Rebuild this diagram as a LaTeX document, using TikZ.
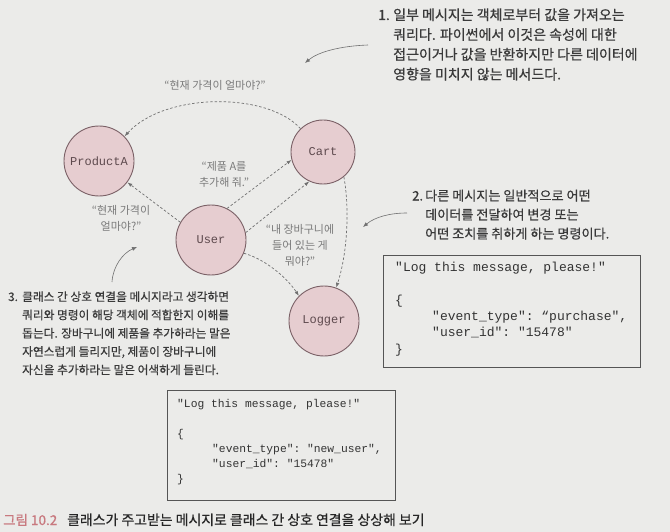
\documentclass[tikz,border=0pt]{standalone}
\usepackage{fontspec}
\newfontfamily\kr{Noto Sans CJK KR}
\newfontfamily\krm[FakeBold=0.6]{Noto Sans CJK KR}
\setmonofont{Liberation Mono}
\usetikzlibrary{arrows.meta}
\definecolor{bg}{HTML}{EBEBE9}
\definecolor{clsfill}{HTML}{E6CDD0}
\definecolor{clsborder}{HTML}{7A6066}
\definecolor{clstext}{HTML}{5E4A4E}
\definecolor{arrowgray}{HTML}{707070}
\definecolor{lblgray}{HTML}{7A7A7A}
\definecolor{notegray}{HTML}{3A3A3A}
\definecolor{boxline}{HTML}{555555}
\definecolor{capred}{HTML}{C8797F}
\tikzset{
  cls/.style={circle, draw=clsborder, fill=clsfill, line width=0.9pt, minimum size=70pt, inner sep=0pt,
    font=\ttfamily\fontsize{12}{14}\selectfont, text=clstext},
  msg/.style={draw=arrowgray, dash pattern=on 2.5pt off 2pt, line width=0.7pt,
    -{Latex[length=5pt,width=3.5pt]}},
  lbl/.style={font=\kr\fontsize{11}{16}\selectfont, text=lblgray, align=center, inner sep=0pt},
  note/.style={text=notegray, inner sep=0pt, anchor=base west},
  pointer/.style={draw=arrowgray, line width=0.6pt, -{Latex[length=5pt,width=4pt]}},
  codebox/.style={draw=boxline, line width=0.7pt, anchor=north west, inner sep=0pt},
  code/.style={inner sep=0pt, anchor=base west, text=black!80}
}
\begin{document}
\begin{tikzpicture}[x=1pt,y=-1pt]
\useasboundingbox (0,0) rectangle (670,532);
\fill[bg] (0,0) rectangle (670,532);

% class nodes
\node[cls] (prod) at (99,161) {ProductA};
\node[cls, minimum size=64pt] (cart) at (323,152) {Cart};
\node[cls] (user) at (211,240) {User};
\node[cls] (log) at (324,321) {Logger};

% messages
\draw[msg] (cart.134) .. controls (268,92) and (165,92) .. (prod.44);
\draw[msg] (user.150) -- (prod.-37);
\draw[msg] (user.63) -- (cart.-166);
\draw[msg] (user.12) -- (cart.-115);
\draw[msg] (cart.-50) .. controls (350,210) and (347,255) .. (log.70);
\draw[msg] (user.-22) .. controls (262,258) and (285,275) .. (log.135);

% message labels
\node[lbl] (ltop) at (215,85) {“현재 가격이 얼마야?”};
\node[lbl] (lleft) at (121,218) {“현재 가격이\\얼마야?”};
\node[lbl] (lmid) at (224,174.5) {“제품 A를\\추가해 줘.”};
\node[lbl] (lright) at (300,245) {“내 장바구니에\\들어 있는 게\\뭐야?”};

% note 1
\node[note] (n1) at (378,20) {\krm\fontsize{14}{19.8}\selectfont
  \begin{tabular}[t]{@{}l@{}l@{}}
  \makebox[15pt][l]{1.} & 일부 메시지는 객체로부터 값을 가져오는\\
  & 쿼리다. 파이썬에서 이것은 속성에 대한\\
  & 접근이거나 값을 반환하지만 다른 데이터에\\
  & 영향을 미치지 않는 메서드다.
  \end{tabular}};
\coordinate (p1s) at (368,45);
\coordinate (p1e) at (305,63);
\draw[pointer] (p1s) .. controls (340,46) and (318,52) .. (p1e);

% note 2
\node[note] (n2) at (412,200.5) {\krm\fontsize{13.1}{19}\selectfont
  \begin{tabular}[t]{@{}l@{}l@{}}
  \makebox[13pt][l]{2.} & 다른 메시지는 일반적으로 어떤\\
  & 데이터를 전달하여 변경 또는\\
  & 어떤 조치를 취하게 하는 명령이다.
  \end{tabular}};
\coordinate (p2s) at (407,213);
\coordinate (p2e) at (363,227);
\draw[pointer] (p2s) .. controls (390,213) and (375,217) .. (p2e);

% note 3
\node[note] (n3) at (8,301) {\krm\fontsize{11.7}{18.3}\selectfont
  \begin{tabular}[t]{@{}l@{}l@{}}
  \makebox[14pt][l]{3.} & 클래스 간 상호 연결을 메시지라고 생각하면\\
  & 쿼리와 명령이 해당 객체에 적합한지 이해를\\
  & 돕는다. 장바구니에 제품을 추가하라는 말은\\
  & 자연스럽게 들리지만, 제품이 장바구니에\\
  & 자신을 추가하라는 말은 어색하게 들린다.
  \end{tabular}};
\coordinate (p3s) at (112,282);
\coordinate (p3e) at (137,247);
\draw[pointer] (p3s) .. controls (113,266) and (123,253) .. (p3e);

% code box A
\node[codebox, minimum width=257pt, minimum height=112pt] (boxA) at (383,255) {};
\node[code] (codeA) at (395,271) {\ttfamily\fontsize{13}{16.5}\selectfont
  \begin{tabular}[t]{@{}l@{}}
  "Log this message, please!"\\
  \mbox{}\\
  \{\\
  \hspace*{37pt}"event\_type": “purchase",\\
  \hspace*{37pt}"user\_id": "15478"\\
  \}
  \end{tabular}};

% code box B
\node[codebox, minimum width=228pt, minimum height=110pt] (boxB) at (167,390) {};
\node[code] (codeB) at (177,407) {\ttfamily\fontsize{11.3}{15}\selectfont
  \begin{tabular}[t]{@{}l@{}}
  "Log this message, please!"\\
  \mbox{}\\
  \{\\
  \hspace*{35pt}"event\_type": "new\_user",\\
  \hspace*{35pt}"user\_id": "15478"\\
  \}
  \end{tabular}};

% caption
\node[anchor=base west, inner sep=0pt, text=capred, font=\krm\fontsize{13.5}{14}\selectfont] (capnum) at (3,525) {그림 10.2};
\node[anchor=base west, inner sep=0pt, text=black!85, font=\krm\fontsize{13.9}{14}\selectfont] (cap) at (67,525) {클래스가 주고받는 메시지로 클래스 간 상호 연결을 상상해 보기};
\end{tikzpicture}
\end{document}
